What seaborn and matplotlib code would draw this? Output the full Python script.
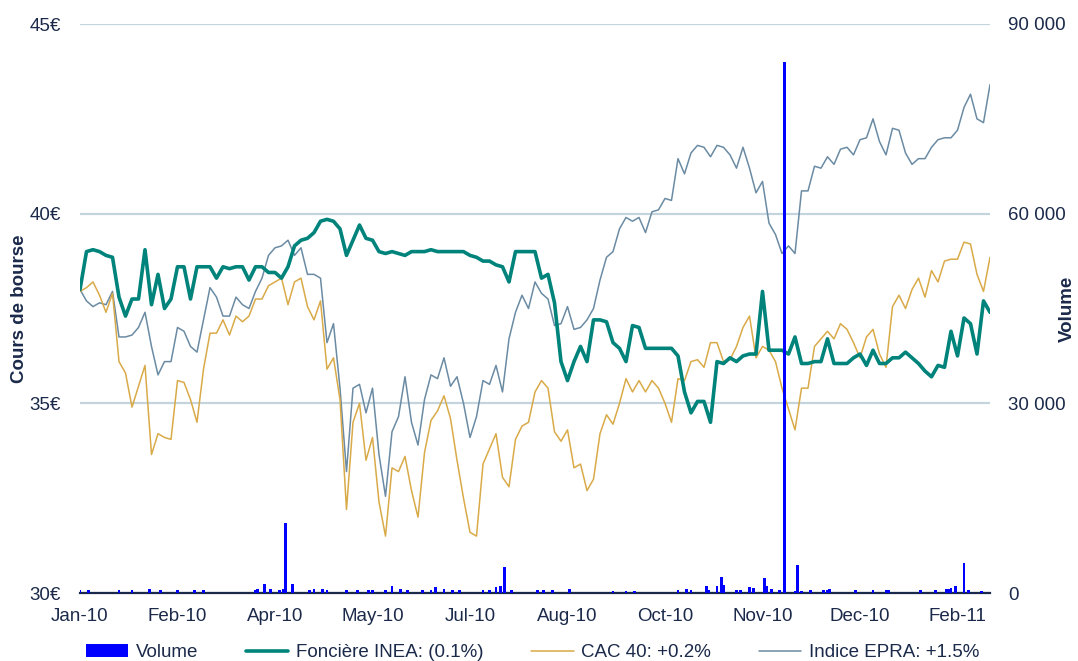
import matplotlib
matplotlib.use("Agg")
import matplotlib.pyplot as plt
import seaborn as sns
import pandas as pd
from matplotlib.ticker import FuncFormatter
from matplotlib.patches import Patch
from matplotlib.lines import Line2D

# ---------------- data ----------------
start_date = "2010-01-04"
step_days = 3          # one reading every 3 calendar days
axis_days = 420        # axis span: 2010-01-04 .. 2011-02-28

inea = [38.0, 39.0, 39.05, 39.0, 38.9, 38.85, 37.8, 37.3, 37.75, 37.75,
        39.05, 37.6, 38.4, 37.5, 37.75, 38.6, 38.6, 37.75, 38.6, 38.6,
        38.6, 38.3, 38.6, 38.55, 38.6, 38.6, 38.25, 38.6, 38.6, 38.45,
        38.45, 38.3, 38.6, 39.15, 39.3, 39.35, 39.5, 39.8, 39.85, 39.8,
        39.6, 38.9, 39.3, 39.7, 39.35, 39.3, 39.0, 38.95, 39.0, 38.95,
        38.9, 39.0, 39.0, 39.0, 39.05, 39.0, 39.0, 39.0, 39.0, 39.0,
        38.9, 38.85, 38.75, 38.75, 38.65, 38.6, 38.2, 39.0, 39.0, 39.0,
        39.0, 38.3, 38.4, 37.65, 36.1, 35.6, 36.1, 36.5, 36.1, 37.2,
        37.2, 37.15, 36.6, 36.45, 36.1, 37.05, 37.0, 36.45, 36.45, 36.45,
        36.45, 36.45, 36.25, 35.3, 34.75, 35.05, 35.05, 34.5, 36.1, 36.05,
        36.2, 36.1, 36.25, 36.3, 36.3, 37.95, 36.4, 36.4, 36.4, 36.3,
        36.75, 36.05, 36.05, 36.1, 36.1, 36.7, 36.05, 36.05, 36.05, 36.2,
        36.3, 36.0, 36.4, 36.05, 36.05, 36.2, 36.2, 36.35, 36.2, 36.05,
        35.85, 35.7, 36.0, 35.95, 36.9, 36.25, 37.25, 37.1, 36.3, 37.7,
        37.4]

cac40 = [37.95, 38.05, 38.2, 37.85, 37.4, 37.9, 36.1, 35.8, 34.9, 35.45,
         36.0, 33.65, 34.2, 34.1, 34.05, 35.6, 35.55, 35.1, 34.5, 35.9,
         36.85, 36.85, 37.2, 36.8, 37.3, 37.15, 37.3, 37.75, 37.75, 38.1,
         38.2, 38.3, 37.6, 38.2, 38.3, 37.55, 37.2, 37.7, 35.9, 36.2,
         35.1, 32.2, 34.5, 35.0, 33.5, 34.1, 32.4, 31.5, 33.3, 33.2,
         33.6, 32.7, 32.0, 33.7, 34.55, 34.8, 35.2, 34.6, 33.5, 32.5,
         31.6, 31.5, 33.4, 33.8, 34.2, 33.05, 32.8, 34.05, 34.4, 34.5,
         35.3, 35.6, 35.4, 34.25, 34.0, 34.3, 33.3, 33.4, 32.7, 33.0,
         34.2, 34.7, 34.45, 35.0, 35.65, 35.3, 35.6, 35.3, 35.6, 35.4,
         35.0, 34.5, 35.65, 35.6, 36.1, 36.15, 35.95, 36.6, 36.6, 36.1,
         36.15, 36.5, 37.0, 37.3, 36.2, 36.5, 36.4, 36.1, 35.4, 34.85,
         34.3, 35.4, 35.4, 36.5, 36.7, 36.9, 36.7, 37.1, 36.95, 36.6,
         36.2, 36.75, 36.95, 36.3, 35.95, 37.55, 37.85, 37.5, 38.0, 38.3,
         37.8, 38.5, 38.2, 38.75, 38.8, 38.8, 39.25, 39.2, 38.4, 37.95,
         38.85]

epra = [38.0, 37.7, 37.55, 37.65, 37.6, 37.95, 36.75, 36.75, 36.8, 37.0,
        37.4, 36.5, 35.75, 36.1, 36.1, 37.0, 36.9, 36.5, 36.35, 37.2,
        38.05, 37.8, 37.3, 37.3, 37.8, 37.6, 37.5, 37.95, 38.3, 38.9,
        39.1, 39.15, 39.3, 38.9, 39.1, 38.4, 38.4, 38.3, 36.6, 37.1,
        35.4, 33.2, 35.4, 35.5, 34.75, 35.4, 33.65, 32.55, 34.25, 34.65,
        35.7, 34.5, 33.9, 35.1, 35.75, 35.65, 36.2, 35.45, 35.7, 35.0,
        34.1, 34.65, 35.6, 35.5, 36.0, 35.3, 36.7, 37.4, 37.85, 37.5,
        38.2, 37.9, 37.75, 37.05, 37.1, 37.55, 36.95, 37.0, 37.2, 37.5,
        38.25, 38.85, 39.0, 39.6, 39.9, 39.8, 39.9, 39.5, 40.05, 40.1,
        40.4, 40.35, 41.45, 41.05, 41.6, 41.8, 41.75, 41.5, 41.8, 41.75,
        41.55, 41.2, 41.75, 41.2, 40.55, 40.85, 39.75, 39.45, 38.95, 39.15,
        38.95, 40.6, 40.6, 41.25, 41.2, 41.5, 41.3, 41.7, 41.75, 41.55,
        41.95, 42.0, 42.5, 41.9, 41.55, 42.25, 42.2, 41.6, 41.3, 41.45,
        41.45, 41.75, 41.95, 42.0, 42.0, 42.2, 42.8, 43.15, 42.5, 42.4,
        43.4]

volume_dates = ["2010-01-04", "2010-01-08", "2010-01-22", "2010-01-28", "2010-02-05",
                "2010-02-10", "2010-02-18", "2010-02-26", "2010-03-02", "2010-03-26",
                "2010-03-27", "2010-03-30", "2010-04-02", "2010-04-06", "2010-04-08",
                "2010-04-09", "2010-04-12", "2010-04-20", "2010-04-22", "2010-04-26",
                "2010-04-28", "2010-05-07", "2010-05-12", "2010-05-17", "2010-05-19",
                "2010-05-25", "2010-05-28", "2010-06-01", "2010-06-04", "2010-06-11",
                "2010-06-15", "2010-06-17", "2010-06-21", "2010-06-25", "2010-06-28",
                "2010-07-09", "2010-07-12", "2010-07-15", "2010-07-17", "2010-07-19",
                "2010-07-22", "2010-08-03", "2010-08-06", "2010-08-10", "2010-08-18",
                "2010-09-07", "2010-09-13", "2010-09-17", "2010-10-07", "2010-10-11",
                "2010-10-13", "2010-10-20", "2010-10-21", "2010-10-25", "2010-10-27",
                "2010-10-28", "2010-11-03", "2010-11-05", "2010-11-09", "2010-11-11",
                "2010-11-16", "2010-11-17", "2010-11-19", "2010-11-23", "2010-11-25",
                "2010-11-30", "2010-12-01", "2010-12-03", "2010-12-07", "2010-12-13",
                "2010-12-15", "2010-12-16", "2010-12-28", "2011-01-05", "2011-01-11",
                "2011-01-12", "2011-01-27", "2011-02-03", "2011-02-08", "2011-02-09",
                "2011-02-10", "2011-02-12", "2011-02-16", "2011-02-18", "2011-02-24"]
volume = [500, 400, 500, 500, 600,
          500, 400, 400, 400, 500,
          700, 1400, 600, 500, 600,
          11000, 1500, 500, 700, 600,
          500, 400, 400, 400, 400,
          400, 1100, 600, 500, 400,
          500, 1000, 600, 500, 500,
          400, 400, 1000, 1100, 4100,
          500, 400, 400, 500, 600,
          300, 300, 300, 500, 700,
          500, 1100, 500, 1100, 2500,
          1200, 400, 500, 1000, 800,
          2400, 1100, 600, 400, 84000,
          300, 4400, 300, 400, 400,
          500, 700, 400, 400, 400,
          400, 400, 400, 600, 600,
          800, 1100, 4700, 400, 300]

tick_labels = ["Jan-10", "Feb-10", "Apr-10", "May-10", "Jul-10",
               "Aug-10", "Oct-10", "Nov-10", "Dec-10", "Feb-11"]
tick_step_days = 45
price_ticks = [30, 35, 40, 45]
volume_ticks = [0, 30000, 60000, 90000]

legend_labels = ["Volume", "Foncière INEA: (0.1%)", "CAC 40: +0.2%", "Indice EPRA: +1.5%"]

# ---------------- styles ----------------
NAVY = "#1b2a4a"
C_INEA = "#00837b"
C_CAC = "#d9aa48"
C_EPRA = "#6a8ba3"
C_VOL = "#0000ff"
C_GRID = "#c4d4dc"

sns.set_theme(style="white")
plt.rcParams["font.family"] = ["Liberation Sans", "DejaVu Sans"]
FS = 13.5

start = pd.Timestamp(start_date)
dates = pd.date_range(start, periods=len(inea), freq=f"{step_days}D")
df = pd.DataFrame({"date": dates, "inea": inea, "cac": cac40, "epra": epra})
vol_df = pd.DataFrame({"date": pd.to_datetime(volume_dates), "volume": volume})

W, H = 1078, 661
fig = plt.figure(figsize=(W / 100, H / 100), dpi=100)
ax = fig.add_axes([80 / W, 1 - 593 / H, 910 / W, 569 / H])
ax2 = ax.twinx()

sns.lineplot(data=df, x="date", y="epra", ax=ax, color=C_EPRA, lw=1.1)
sns.lineplot(data=df, x="date", y="cac", ax=ax, color=C_CAC, lw=1.1)
sns.lineplot(data=df, x="date", y="inea", ax=ax, color=C_INEA, lw=2.6)

ax2.bar(vol_df["date"], vol_df["volume"], width=1.3, color=C_VOL, linewidth=0)

ax.set_xlim(start, start + pd.Timedelta(days=axis_days))
ax.set_ylim(price_ticks[0], price_ticks[-1])
ax2.set_ylim(volume_ticks[0], volume_ticks[-1])

ax.set_yticks(price_ticks)
ax.yaxis.set_major_formatter(FuncFormatter(lambda v, p: f"{v:.0f}€"))
ax2.set_yticks(volume_ticks)
ax2.yaxis.set_major_formatter(FuncFormatter(lambda v, p: f"{v:,.0f}".replace(",", " ")))

tick_dates = [start + pd.Timedelta(days=tick_step_days * k) for k in range(len(tick_labels))]
ax.set_xticks(tick_dates)
ax.set_xticklabels(tick_labels)

ax.grid(False)
ax2.grid(False)
ax.yaxis.grid(True, color=C_GRID, lw=1.6)
ax.set_axisbelow(True)

for s in ["top", "left", "right"]:
    ax.spines[s].set_visible(False)
for s in ["top", "left", "right", "bottom"]:
    ax2.spines[s].set_visible(False)
ax.spines["bottom"].set_color(NAVY)
ax.spines["bottom"].set_linewidth(1.6)
ax.spines["bottom"].set_zorder(5)

ax.tick_params(axis="x", length=0, labelsize=FS, colors=NAVY, pad=11)
ax.tick_params(axis="y", length=0, labelsize=FS, colors=NAVY, pad=14)
ax2.tick_params(axis="y", length=0, labelsize=FS, colors=NAVY, pad=13)

ax.set_xlabel("")
ax.set_ylabel("Cours de bourse", fontsize=FS, fontweight="bold", color=NAVY,
              va="center", ha="center")
ax.yaxis.set_label_coords(-0.066, 0.5)
ax2.set_ylabel("Volume", fontsize=FS, fontweight="bold", color=NAVY,
               va="center", ha="center", rotation=90)
ax2.yaxis.set_label_coords(1.0846, 0.5)

handles = [Patch(facecolor=C_VOL, edgecolor="none"),
           Line2D([], [], color=C_INEA, lw=2.6),
           Line2D([], [], color=C_CAC, lw=1.1),
           Line2D([], [], color=C_EPRA, lw=1.1)]
fig.legend(handles, legend_labels, loc="center", bbox_to_anchor=(0.494, 0.0125),
           ncol=4, frameon=False, fontsize=FS, labelcolor=NAVY,
           handlelength=2.25, handletextpad=0.4, columnspacing=2.56,
           borderpad=0, borderaxespad=0)

fig.savefig("out.png", dpi=100)
